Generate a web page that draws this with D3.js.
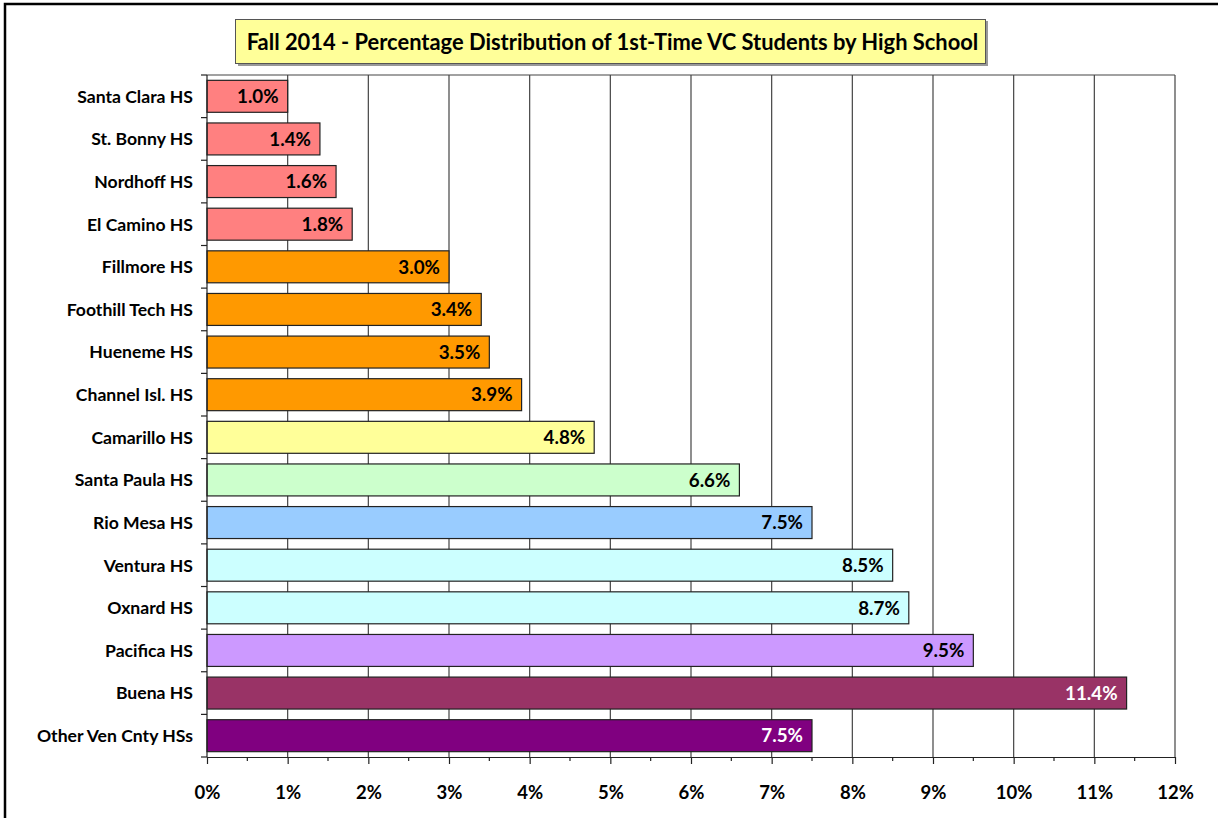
<!DOCTYPE html>
<html><head><meta charset="utf-8">
<script src="https://cdn.jsdelivr.net/npm/d3@7"></script>
<style>body{margin:0;background:#fff}svg{display:block}</style>
</head><body>
<svg id="c" width="1218" height="818"></svg>
<script>
const schools = ["Santa Clara HS","St. Bonny HS","Nordhoff HS","El Camino HS","Fillmore HS","Foothill Tech HS","Hueneme HS","Channel Isl. HS","Camarillo HS","Santa Paula HS","Rio Mesa HS","Ventura HS","Oxnard HS","Pacifica HS","Buena HS","Other Ven Cnty HSs"];
const percents = [1.0,1.4,1.6,1.8,3.0,3.4,3.5,3.9,4.8,6.6,7.5,8.5,8.7,9.5,11.4,7.5];
const barColors = ["#FF8080","#FF8080","#FF8080","#FF8080","#FF9900","#FF9900","#FF9900","#FF9900","#FFFF99","#CCFFCC","#99CCFF","#CCFFFF","#CCFFFF","#CC99FF","#993366","#800080"];
const labelColors = ["#000","#000","#000","#000","#000","#000","#000","#000","#000","#000","#000","#000","#000","#000","#fff","#fff"];
const xTicks = [0,1,2,3,4,5,6,7,8,9,10,11,12];
const title = "Fall 2014 - Percentage Distribution of 1st-Time VC Students by High School";

const font = "Lato, 'Open Sans', sans-serif";
const svg = d3.select("#c");
const L = 207, R = 1175, T = 75, B = 757;

// outer border
svg.append("rect").attr("x",5).attr("y",4).attr("width",1230).attr("height",830)
  .attr("fill","none").attr("stroke","#000").attr("stroke-width",2.5);

const x = d3.scaleLinear().domain([0,12]).range([L,R]);
const y = d3.scaleBand().domain(schools).range([T,B]).paddingInner(0.25).paddingOuter(0.125);

// gridlines
svg.append("g").selectAll("line").data(xTicks.slice(1)).join("line")
  .attr("x1",d=>x(d)).attr("x2",d=>x(d)).attr("y1",T).attr("y2",B)
  .attr("stroke","#444").attr("stroke-width",1.2);
svg.append("line").attr("x1",L).attr("x2",R).attr("y1",T).attr("y2",T).attr("stroke","#444").attr("stroke-width",1.2);

// bars
svg.append("g").selectAll("rect").data(schools).join("rect")
  .attr("x",x(0)).attr("y",d=>y(d))
  .attr("width",(d,i)=>x(percents[i])-x(0)).attr("height",y.bandwidth())
  .attr("fill",(d,i)=>barColors[i]).attr("stroke","#222").attr("stroke-width",1.2);

// value labels
svg.append("g").selectAll("text").data(schools).join("text")
  .attr("x",(d,i)=>x(percents[i])-9).attr("y",d=>y(d)+y.bandwidth()/2)
  .attr("dy","0.36em").attr("text-anchor","end")
  .attr("font-family",font).attr("font-weight","bold").attr("font-size",18.8)
  .attr("fill",(d,i)=>labelColors[i])
  .text((d,i)=>percents[i].toFixed(1)+"%");

// y axis
const yStep = y.step();
svg.append("line").attr("x1",L).attr("x2",L).attr("y1",T).attr("y2",B).attr("stroke","#222").attr("stroke-width",1.2);
svg.append("g").selectAll("line").data(d3.range(schools.length+1)).join("line")
  .attr("x1",L-6).attr("x2",L).attr("y1",i=>T+i*yStep).attr("y2",i=>T+i*yStep)
  .attr("stroke","#222").attr("stroke-width",1.2);
svg.append("g").selectAll("text").data(schools).join("text")
  .attr("x",193).attr("y",d=>y(d)+y.bandwidth()/2).attr("dy","0.36em")
  .attr("text-anchor","end").attr("font-family",font).attr("font-weight","bold")
  .attr("font-size",17.6).attr("fill","#000").text(d=>d);

// x axis
const xAxis = d3.axisBottom(x).tickValues(xTicks).tickSize(7).tickSizeOuter(0).tickFormat(d=>d+"%");
const gx = svg.append("g").attr("transform",`translate(0,${B})`).call(xAxis);
gx.select(".domain").attr("stroke","#222").attr("stroke-width",1.2);
gx.selectAll(".tick line").attr("stroke","#222").attr("stroke-width",1.2);
gx.selectAll(".tick text").attr("font-family",font).attr("font-weight","bold")
  .attr("font-size",18.5).attr("fill","#000").attr("dy","0").attr("y",42);
const minor = d3.range(0.5,12,1);
svg.append("g").selectAll("line").data(minor).join("line")
  .attr("x1",d=>x(d)).attr("x2",d=>x(d)).attr("y1",B).attr("y2",B+4)
  .attr("stroke","#222").attr("stroke-width",1.2);

// title
svg.append("rect").attr("x",238).attr("y",21).attr("width",750).attr("height",45).attr("fill","#999");
svg.append("rect").attr("x",235.5).attr("y",19.5).attr("width",750).attr("height",44)
  .attr("fill","#FFFF99").attr("stroke","#555").attr("stroke-width",1);
svg.append("text").attr("x",612.5).attr("y",42).attr("dy","0.36em").attr("text-anchor","middle")
  .attr("font-family",font).attr("font-weight","bold").attr("font-size",21.9).attr("fill","#000")
  .text(title);
</script>
</body></html>
